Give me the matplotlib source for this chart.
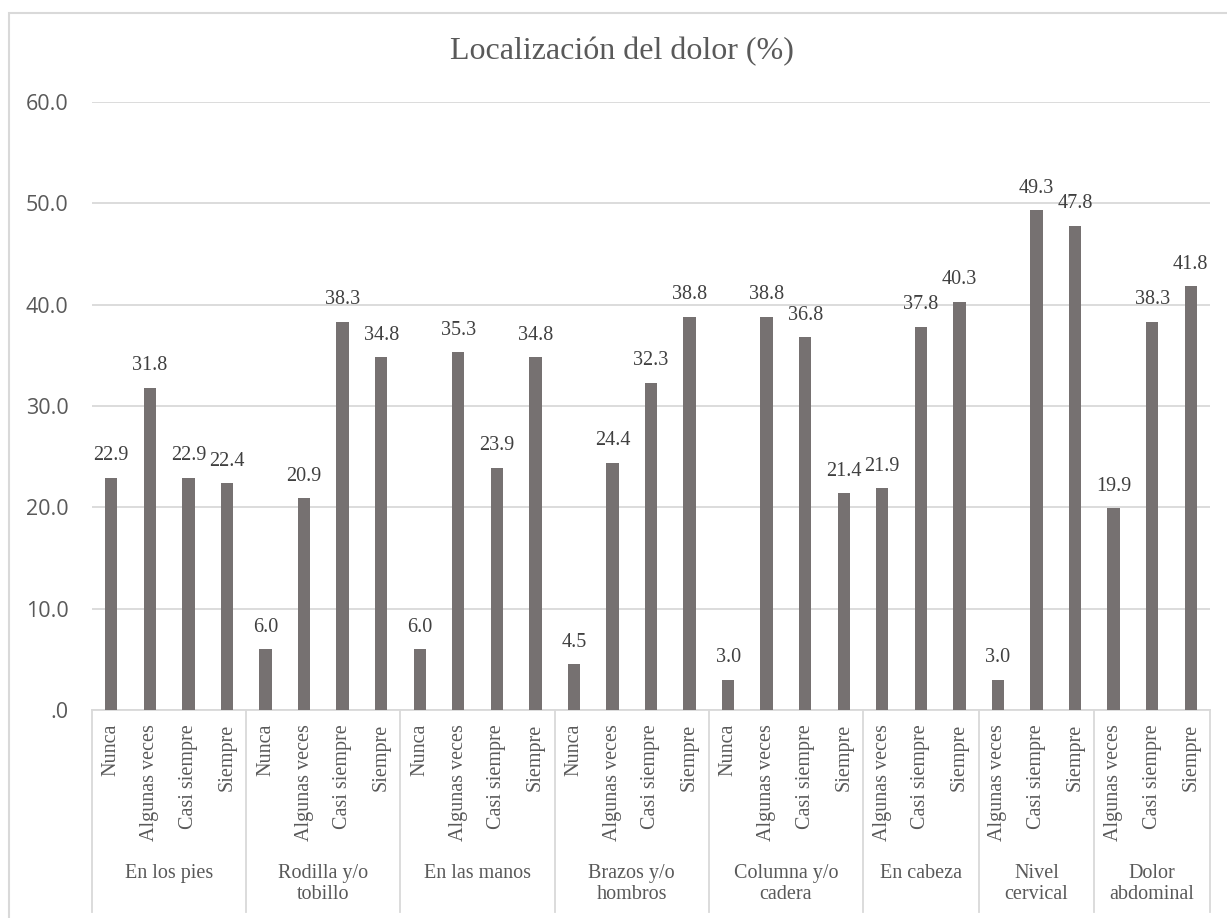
import matplotlib.pyplot as plt
import matplotlib.transforms as mtransforms
from matplotlib.patches import Rectangle

# data
groups = ["En los pies", "Rodilla y/o\ntobillo", "En las manos", "Brazos y/o\nhombros",
          "Columna y/o\ncadera", "En cabeza", "Nivel\ncervical", "Dolor\nabdominal"]
group_cats = [
    ["Nunca", "Algunas veces", "Casi siempre", "Siempre"],
    ["Nunca", "Algunas veces", "Casi siempre", "Siempre"],
    ["Nunca", "Algunas veces", "Casi siempre", "Siempre"],
    ["Nunca", "Algunas veces", "Casi siempre", "Siempre"],
    ["Nunca", "Algunas veces", "Casi siempre", "Siempre"],
    ["Algunas veces", "Casi siempre", "Siempre"],
    ["Algunas veces", "Casi siempre", "Siempre"],
    ["Algunas veces", "Casi siempre", "Siempre"],
]
group_vals = [
    [22.9, 31.8, 22.9, 22.4],
    [6.0, 20.9, 38.3, 34.8],
    [6.0, 35.3, 23.9, 34.8],
    [4.5, 24.4, 32.3, 38.8],
    [3.0, 38.8, 36.8, 21.4],
    [21.9, 37.8, 40.3],
    [3.0, 49.3, 47.8],
    [19.9, 38.3, 41.8],
]
yticks = [0, 10, 20, 30, 40, 50, 60]

bar_color = "#767171"
grid_color = "#d9d9d9"
text_color = "#595959"
serif = ["Liberation Serif", "DejaVu Serif"]

fig = plt.figure(figsize=(12.27, 9.18), dpi=100)
W, H = 1227, 918
# chart border, cut off at bottom and right like the reference
fig.patches.append(Rectangle((9 / W, -0.01), 1.1, 1 - 13 / H + 0.01, transform=fig.transFigure,
                             fill=False, edgecolor=grid_color, linewidth=1.5))

ax = fig.add_axes([92 / W, 1 - 710 / H, (1210 - 92) / W, (710 - 102) / H])

labels = []
vals = []
for cats, vs in zip(group_cats, group_vals):
    labels += cats
    vals += vs
x = list(range(len(vals)))

ax.bar(x, vals, width=0.32, color=bar_color, zorder=3)
for xi, v in zip(x, vals):
    ax.annotate(f"{v:.1f}", (xi, v), xytext=(0, 9), textcoords="offset points",
                ha="center", va="bottom", fontsize=14.5, family=serif, color="#404040")

ax.set_xlim(-0.5, len(vals) - 0.5)
ax.set_ylim(0, 60)
ax.set_yticks(yticks)
ax.set_yticklabels([".0" if t == 0 else f"{t:.1f}" for t in yticks],
                   fontsize=15.5, family="Open Sans", color=text_color)
ax.yaxis.grid(True, color=grid_color, linewidth=1.3, zorder=0)
ax.tick_params(axis="y", length=0, pad=17)
for s in ["top", "right", "left"]:
    ax.spines[s].set_visible(False)
ax.spines["bottom"].set_color(grid_color)
ax.spines["bottom"].set_linewidth(1.3)

ax.set_xticks(x)
ax.set_xticklabels(labels, rotation=90, fontsize=14.5, family=serif, color=text_color)
ax.tick_params(axis="x", length=0, pad=10)

trans = mtransforms.blended_transform_factory(ax.transData, ax.transAxes)
bottom = -(912 - 710) / (710 - 102)
pos = -0.5
bounds = [pos]
for g, cats in zip(groups, group_cats):
    center = pos + len(cats) / 2
    ax.text(center, -(864 - 710) / (710 - 102), g, transform=trans, ha="center", va="top",
            fontsize=14.5, family=serif, color=text_color, linespacing=1.15)
    pos += len(cats)
    bounds.append(pos)
for b in bounds:
    ax.plot([b, b], [0, bottom], transform=trans, color=grid_color, linewidth=1.3, clip_on=False)

fig.text(622 / W, 1 - 52 / H, "Localización del dolor (%)", ha="center", va="center",
         fontsize=23, family=serif, color=text_color)

fig.savefig("out.png", dpi=100)
